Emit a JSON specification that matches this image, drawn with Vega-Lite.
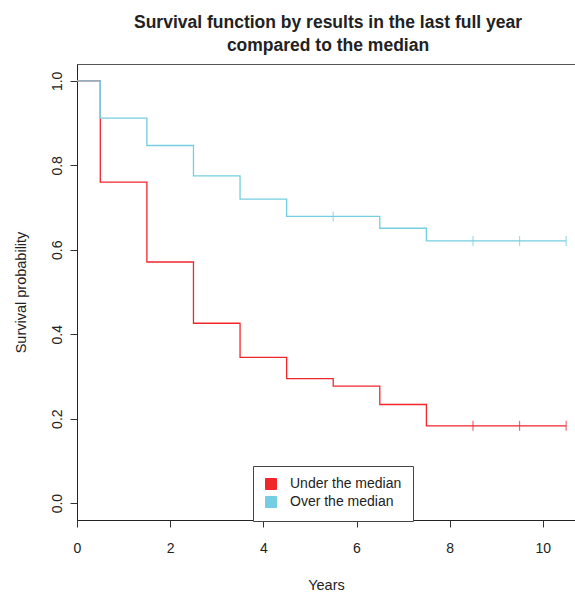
{
  "$schema": "https://vega.github.io/schema/vega-lite/v6.json",
  "autosize": "none",
  "width": 498,
  "height": 456,
  "padding": {"left": 77, "top": 64, "right": 0, "bottom": 72},
  "background": "white",
  "config": {
    "font": "Liberation Sans",
    "view": {"stroke": "#555", "strokeWidth": 1},
    "axis": {"grid": false, "labelFlush": false, "labelFont": "Liberation Sans", "titleFont": "Liberation Sans", "labelFontSize": 14, "titleFontSize": 14.5, "titleFontWeight": "normal", "labelColor": "#222", "titleColor": "#222", "tickColor": "#333", "domainColor": "#222", "tickSize": 7}
  },
  "title": {
    "text": ["Survival function by results in the last full year", "compared to the median"],
    "fontSize": 17.5, "fontWeight": "bold", "font": "Liberation Sans", "color": "#222",
    "anchor": "middle", "offset": 10, "lineHeight": 23, "dx": 2
  },
  "datasets": {
    "curves": [
      {"group": "Under the median", "years": 0, "surv": 1.0},
      {"group": "Under the median", "years": 0.5, "surv": 0.76},
      {"group": "Under the median", "years": 1.5, "surv": 0.571},
      {"group": "Under the median", "years": 2.5, "surv": 0.426},
      {"group": "Under the median", "years": 3.5, "surv": 0.345},
      {"group": "Under the median", "years": 4.5, "surv": 0.295},
      {"group": "Under the median", "years": 5.5, "surv": 0.277},
      {"group": "Under the median", "years": 6.5, "surv": 0.2335},
      {"group": "Under the median", "years": 7.5, "surv": 0.183},
      {"group": "Under the median", "years": 10.5, "surv": 0.183},
      {"group": "Over the median", "years": 0, "surv": 1.0},
      {"group": "Over the median", "years": 0.5, "surv": 0.912},
      {"group": "Over the median", "years": 1.5, "surv": 0.847},
      {"group": "Over the median", "years": 2.5, "surv": 0.775},
      {"group": "Over the median", "years": 3.5, "surv": 0.72},
      {"group": "Over the median", "years": 4.5, "surv": 0.679},
      {"group": "Over the median", "years": 6.5, "surv": 0.651},
      {"group": "Over the median", "years": 7.5, "surv": 0.621},
      {"group": "Over the median", "years": 10.5, "surv": 0.621}
    ],
    "censored": [
      {"group": "Under the median", "years": 8.5, "surv": 0.183},
      {"group": "Under the median", "years": 9.5, "surv": 0.183},
      {"group": "Under the median", "years": 10.5, "surv": 0.183},
      {"group": "Over the median", "years": 5.5, "surv": 0.679},
      {"group": "Over the median", "years": 8.5, "surv": 0.621},
      {"group": "Over the median", "years": 9.5, "surv": 0.621},
      {"group": "Over the median", "years": 10.5, "surv": 0.621}
    ]
  },
  "layer": [
    {
      "data": {"name": "curves"},
      "mark": {"type": "line", "interpolate": "step-after", "strokeWidth": 1.3},
      "encoding": {
        "x": {"field": "years", "type": "quantitative", "scale": {"domain": [0, 10.69], "nice": false, "zero": false},
              "axis": {"values": [0, 2, 4, 6, 8, 10], "title": "Years", "labelPadding": 14, "titlePadding": 23, "domain": true}},
        "y": {"field": "surv", "type": "quantitative", "scale": {"domain": [-0.04, 1.04], "nice": false, "zero": false},
              "axis": {"values": [0, 0.2, 0.4, 0.6, 0.8, 1.0], "format": ".1f", "title": "Survival probability", "labelAngle": -90, "labelAlign": "center", "labelBaseline": "bottom", "labelPadding": 6, "titlePadding": 22}},
        "color": {"field": "group", "type": "nominal",
                  "scale": {"domain": ["Under the median", "Over the median"], "range": ["#f0262b", "#74cde0"]},
                  "legend": {"title": null, "orient": "none", "legendX": 176, "legendY": 402,
                             "symbolType": "square", "symbolSize": 121, "symbolStrokeColor": "#222", "symbolStrokeWidth": 1, "symbolOpacity": 1,
                             "labelFont": "Liberation Sans", "labelFontSize": 14, "labelColor": "#222", "labelOffset": 12,
                             "strokeColor": "#444", "fillColor": "white", "padding": 11, "rowPadding": 2,
                             "encode": {"symbols": {"enter": {"stroke": {"value": "#222"}, "strokeWidth": {"value": 1}}, "update": {"fill": {"scale": "color", "field": "value"}, "stroke": {"value": "#222"}, "strokeWidth": {"value": 1}}}}}}
      }
    },
    {
      "data": {"name": "censored"},
      "mark": {"type": "tick", "orient": "vertical", "size": 10, "thickness": 1.2},
      "encoding": {
        "x": {"field": "years", "type": "quantitative"},
        "y": {"field": "surv", "type": "quantitative"},
        "color": {"field": "group", "type": "nominal"}
      }
    }
  ]
}
